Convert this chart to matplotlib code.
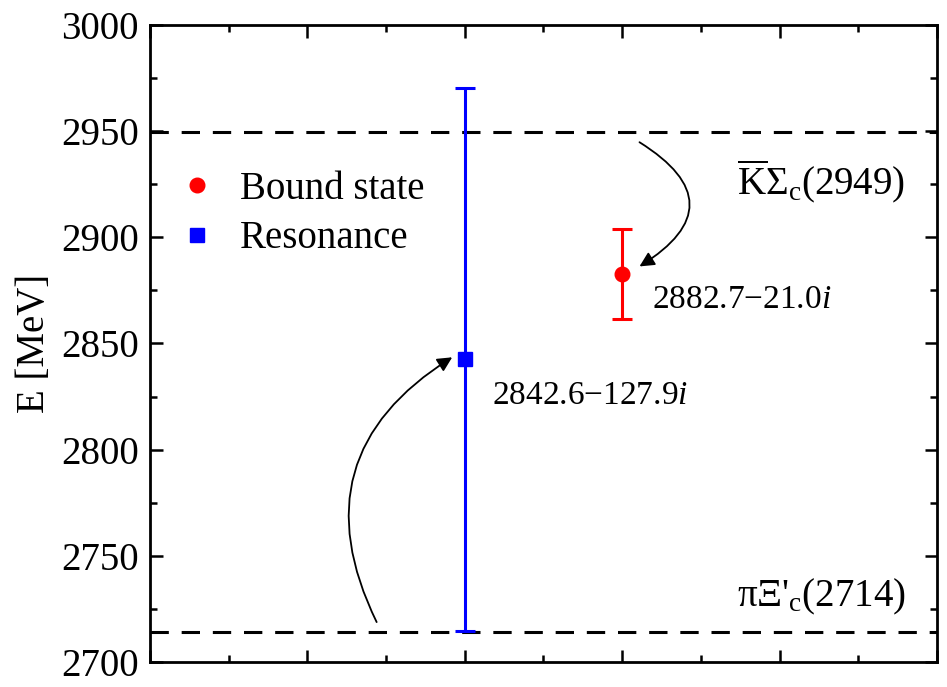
import matplotlib
matplotlib.use("Agg")
import matplotlib.pyplot as plt
from matplotlib.lines import Line2D
from matplotlib.ticker import MultipleLocator

plt.rcParams['font.family'] = ['Liberation Serif', 'DejaVu Serif']
plt.rcParams['mathtext.fontset'] = 'custom'
plt.rcParams['mathtext.rm'] = 'Liberation Serif'
plt.rcParams['mathtext.it'] = 'Liberation Serif:italic'

# Datos
x_pos = [2, 3]
energia = [2842.6, 2882.7]
anchura = [127.9, 21.0]
colores = ['blue', 'red']
marcadores = ['s', 'o']
etiquetas = ['Resonance', 'Bound state']
umbrales = [2949.6, 2714.1]
umbral_txt = [r'$\overline{\mathrm{K}}$Σ$_{\mathrm{c}}$(2949)', "πΞ'$_{\\mathrm{c}}$(2714)"]
polo_txt = [r'2842.6$-$127.9$i$', r'2882.7$-$21.0$i$']

fig = plt.figure(figsize=(9.47, 6.87), dpi=100)
ax = fig.add_axes([0.1584, 0.0364, 0.8310, 0.9272])

# Umbrales
for u in umbrales:
    ax.axhline(u, color='black', lw=2.2, dashes=(6, 4.2))

# Polos con barras de error
for xi, e, w, c, m in zip(x_pos, energia, anchura, colores, marcadores):
    ax.errorbar(xi, e, yerr=w, color=c, marker=m, ms=10.5 if m == 'o' else 10,
                lw=2.2, capsize=7, capthick=2.2, zorder=3)

ax.set_xlim(0, 5)
ax.set_ylim(2700, 3000)
ax.xaxis.set_major_locator(MultipleLocator(1))
ax.xaxis.set_minor_locator(MultipleLocator(0.5))
ax.yaxis.set_major_locator(MultipleLocator(50))
ax.yaxis.set_minor_locator(MultipleLocator(25))
ax.tick_params(which='both', direction='in', top=True, right=True, width=1.8)
ax.tick_params(which='major', length=9, labelsize=28, pad=8)
ax.tick_params(which='minor', length=5)
ax.tick_params(axis='x', labelbottom=False)
for s in ax.spines.values():
    s.set_linewidth(2)
ax.set_ylabel('E [MeV]', fontsize=28, labelpad=6)

# Textos
ax.text(4.8, 2926.5, umbral_txt[0], fontsize=28, ha='right', va='center')
ax.text(4.8, 2730.5, umbral_txt[1], fontsize=28, ha='right', va='center')
ax.text(2.17, 2825.5, polo_txt[0], fontsize=24, ha='left', va='center')
ax.text(3.19, 2870.5, polo_txt[1], fontsize=24, ha='left', va='center')

# Flechas
ax.annotate('', xy=(3.11, 2886.3), xytext=(3.11, 2944.8),
            arrowprops=dict(arrowstyle='-|>', color='black', lw=1.3,
                            mutation_scale=22, shrinkA=0, shrinkB=0,
                            connectionstyle='arc3,rad=-0.8'))
ax.annotate('', xy=(1.92, 2843.5), xytext=(1.44, 2718.8),
            arrowprops=dict(arrowstyle='-|>', color='black', lw=1.3,
                            mutation_scale=22, shrinkA=0, shrinkB=0,
                            connectionstyle='arc3,rad=-0.45'))

# Leyenda
h = [Line2D([], [], ls='none', marker='o', color='red', ms=10.5),
     Line2D([], [], ls='none', marker='s', color='blue', ms=10)]
ax.legend(h, [etiquetas[1], etiquetas[0]], loc='upper left',
          bbox_to_anchor=(0.0351, 0.771), frameon=False, fontsize=28,
          handlelength=1.0, handletextpad=0.6, labelspacing=0.32,
          borderpad=0, borderaxespad=0)

plt.savefig('out.png', dpi=100)
